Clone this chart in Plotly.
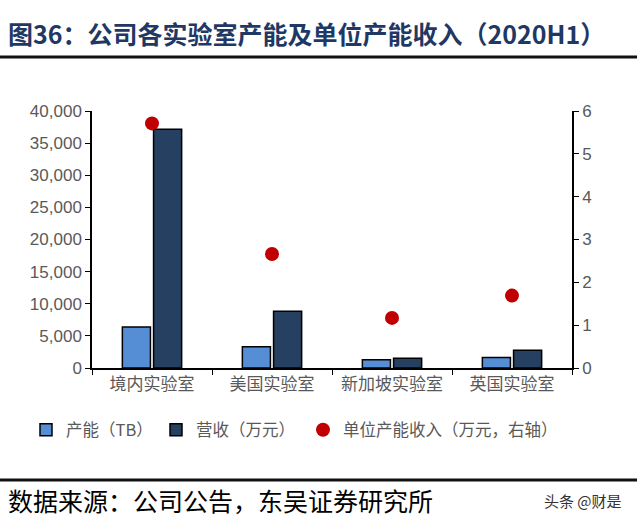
import plotly.graph_objects as go

categories = ["境内实验室", "美国实验室", "新加坡实验室", "英国实验室"]
capacity_tb = [6400, 3300, 1300, 1650]
revenue_wan = [37150, 8850, 1500, 2750]
unit_revenue = [5.71, 2.66, 1.17, 1.69]

title_text = "图36：公司各实验室产能及单位产能收入（2020H1）"
source_text = "数据来源：公司公告，东吴证券研究所"
watermark = "头条 @财是"

CJK = "Noto Sans CJK SC"
ARIAL = "Liberation Sans, Arial"
GRAY = "#595959"

fig = go.Figure()
fig.add_trace(go.Bar(
    x=categories, y=capacity_tb, name="产能（TB）", legend="legend",
    marker=dict(color="#558ED5", line=dict(color="#000000", width=1.5)),
    yaxis="y"))
fig.add_trace(go.Bar(
    x=categories, y=revenue_wan, name="营收（万元）", legend="legend2",
    marker=dict(color="#254061", line=dict(color="#000000", width=1.5)),
    yaxis="y"))
fig.add_trace(go.Scatter(
    x=categories, y=unit_revenue, name="单位产能收入（万元，右轴）", legend="legend3",
    mode="markers", marker=dict(color="#C00000", size=14, symbol="circle"),
    yaxis="y2"))

def leg(xpx):
    return dict(orientation="h", xref="container", yref="container",
                x=xpx / 640, y=1 - 430 / 525, xanchor="left", yanchor="middle",
                font=dict(family=CJK, size=16.5, color=GRAY),
                itemwidth=30, bgcolor="rgba(0,0,0,0)")

fig.update_layout(
    width=640, height=525,
    paper_bgcolor="white", plot_bgcolor="white",
    margin=dict(l=92, r=68, t=111, b=157, autoexpand=False),
    barmode="group", bargap=0.48, bargroupgap=0.1,
    showlegend=True,
    legend=leg(26), legend2=leg(156), legend3=leg(303),
    xaxis=dict(
        automargin=False,
        showline=True, linecolor="black", linewidth=1.5,
        ticks="outside", tickson="boundaries", ticklen=5, tickcolor="black",
        tickfont=dict(family=CJK, size=17, color=GRAY),
        showgrid=False, zeroline=False),
    yaxis=dict(
        automargin=False,
        range=[0, 40000], dtick=5000, tickformat=",",
        showline=True, linecolor="black", linewidth=1.5,
        ticks="outside", ticklen=5, tickcolor="black",
        tickfont=dict(family=ARIAL, size=17, color=GRAY),
        showgrid=False, zeroline=False),
    yaxis2=dict(
        automargin=False,
        range=[0, 6], dtick=1, overlaying="y", side="right",
        showline=True, linecolor="black", linewidth=1.5,
        ticks="outside", ticklen=5, tickcolor="black",
        tickfont=dict(family=ARIAL, size=17, color=GRAY),
        showgrid=False, zeroline=False),
)

fig.add_annotation(text="<b>" + title_text + "</b>", xref="paper", yref="paper",
                   x=(6 - 92) / 480, y=1 + (111 - 33) / 257,
                   xanchor="left", yanchor="middle", showarrow=False,
                   font=dict(family=CJK, size=25, color="#1F3864"))
fig.add_annotation(text=source_text, xref="paper", yref="paper",
                   x=(6 - 92) / 480, y=-(500 - 368) / 257,
                   xanchor="left", yanchor="middle", showarrow=False,
                   font=dict(family=CJK, size=25, color="#000000"))
fig.add_annotation(text=watermark, xref="paper", yref="paper",
                   x=(624 - 92) / 480, y=-(500 - 368) / 257,
                   xanchor="right", yanchor="middle", showarrow=False,
                   font=dict(family=CJK, size=15, color="#333333"))

fig.add_shape(type="line", xref="paper", yref="paper",
              x0=(0 - 92) / 480, x1=(637 - 92) / 480,
              y0=1 + (111 - 57) / 257, y1=1 + (111 - 57) / 257,
              line=dict(color="#111111", width=3))
fig.add_shape(type="line", xref="paper", yref="paper",
              x0=(0 - 92) / 480, x1=(637 - 92) / 480,
              y0=-(480 - 368) / 257, y1=-(480 - 368) / 257,
              line=dict(color="#111111", width=3))

fig.write_html("out.html", config={"displayModeBar": False},
               post_script="document.body.style.margin='0px';")
